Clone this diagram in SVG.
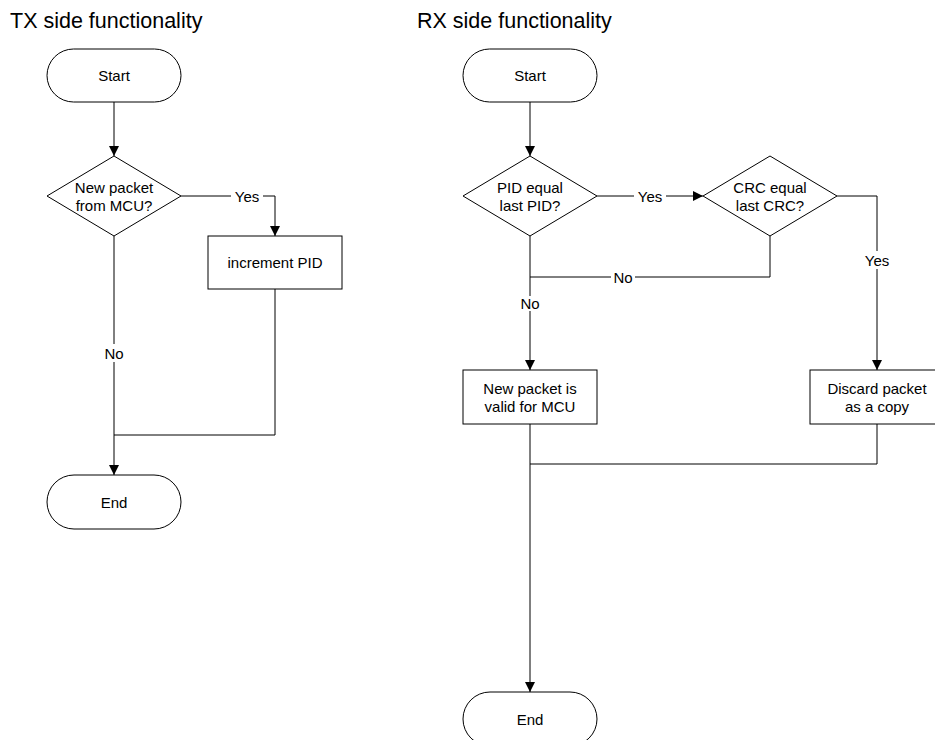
<svg xmlns="http://www.w3.org/2000/svg" width="935" height="740" viewBox="0 0 935 740">
<style>
.shape{fill:#fff;stroke:#000;stroke-width:1}
.line{fill:none;stroke:#000;stroke-width:1}
.t{font-family:"Liberation Sans",Arial,sans-serif;font-size:15px;fill:#000;text-anchor:middle;dominant-baseline:central}
.title{font-family:"Liberation Sans",Arial,sans-serif;font-size:21.5px;fill:#000}
.lbl{fill:#fff;stroke:none}
</style>
<defs>
<marker id="arr" viewBox="0 0 10 10" refX="10" refY="5" markerWidth="10" markerHeight="10" markerUnits="userSpaceOnUse" orient="auto">
<path d="M0,0 L10,5 L0,10 z" fill="#000"/>
</marker>
</defs>
<rect width="935" height="740" fill="#fff"/>
<text class="title" x="10" y="28">TX side functionality</text>
<text class="title" x="417" y="28">RX side functionality</text>

<g id="connectors">
<!-- TX -->
<path class="line" d="M114,102 V156" marker-end="url(#arr)"/>
<path class="line" d="M181,196 H275 V236" marker-end="url(#arr)"/>
<path class="line" d="M114,236 V475" marker-end="url(#arr)"/>
<path class="line" d="M275,289 V435 H114"/>
<!-- RX -->
<path class="line" d="M530,102 V156" marker-end="url(#arr)"/>
<path class="line" d="M597,196 H703" marker-end="url(#arr)"/>
<path class="line" d="M837,196 H877 V370" marker-end="url(#arr)"/>
<path class="line" d="M770,236 V277 H530"/>
<path class="line" d="M530,236 V370" marker-end="url(#arr)"/>
<path class="line" d="M530,424 V692" marker-end="url(#arr)"/>
<path class="line" d="M877,424 V464 H530"/>
<!-- labels -->
<rect class="lbl" x="231" y="187" width="32" height="18"/>
<text class="t" x="247" y="196">Yes</text>
<rect class="lbl" x="102" y="344" width="24" height="18"/>
<text class="t" x="114" y="353">No</text>
<rect class="lbl" x="634" y="187" width="32" height="18"/>
<text class="t" x="650" y="196">Yes</text>
<rect class="lbl" x="861" y="251" width="32" height="18"/>
<text class="t" x="877" y="260">Yes</text>
<rect class="lbl" x="611" y="268" width="24" height="18"/>
<text class="t" x="623" y="277">No</text>
<rect class="lbl" x="521" y="296" width="18" height="15"/>
<text class="t" x="530" y="303">No</text>
</g>

<g id="tx-start">
<rect class="shape" x="47" y="49" width="134" height="53" rx="26.5"/>
<text class="t" x="114" y="75.5">Start</text>
</g>
<g id="tx-decision">
<polygon class="shape" points="114,156 181,196 114,236 47,196"/>
<text class="t" x="114" y="187">New packet</text>
<text class="t" x="114" y="205">from MCU?</text>
</g>
<g id="tx-increment">
<rect class="shape" x="208" y="236" width="134" height="53"/>
<text class="t" x="275" y="262.5">increment PID</text>
</g>
<g id="tx-end">
<rect class="shape" x="47" y="475" width="134" height="54" rx="27"/>
<text class="t" x="114" y="502">End</text>
</g>

<g id="rx-start">
<rect class="shape" x="463" y="49" width="134" height="53" rx="26.5"/>
<text class="t" x="530" y="75.5">Start</text>
</g>
<g id="rx-pid">
<polygon class="shape" points="530,156 597,196 530,236 463,196"/>
<text class="t" x="530" y="187">PID equal</text>
<text class="t" x="530" y="205">last PID?</text>
</g>
<g id="rx-crc">
<polygon class="shape" points="770,156 837,196 770,236 703,196"/>
<text class="t" x="770" y="187">CRC equal</text>
<text class="t" x="770" y="205">last CRC?</text>
</g>
<g id="rx-valid">
<rect class="shape" x="463" y="370" width="134" height="54"/>
<text class="t" x="530" y="388">New packet is</text>
<text class="t" x="530" y="406">valid for MCU</text>
</g>
<g id="rx-discard">
<rect class="shape" x="810" y="370" width="134" height="54"/>
<text class="t" x="877" y="388">Discard packet</text>
<text class="t" x="877" y="406">as a copy</text>
</g>
<g id="rx-end">
<rect class="shape" x="463" y="692" width="134" height="54" rx="27"/>
<text class="t" x="530" y="719">End</text>
</g>
</svg>
